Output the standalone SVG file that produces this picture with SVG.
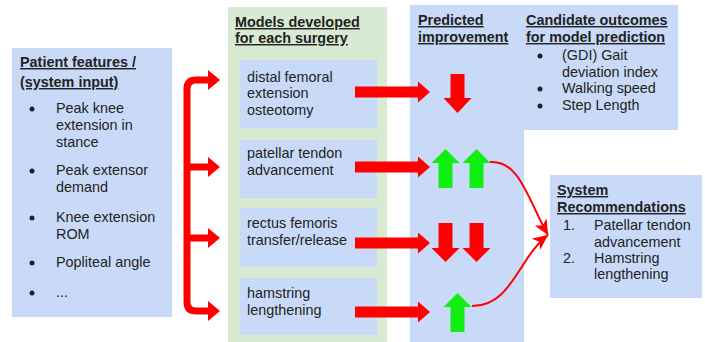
<svg xmlns="http://www.w3.org/2000/svg" width="705" height="342" viewBox="0 0 705 342">
  <style>
    text { font-family: "Liberation Sans", Arial, sans-serif; font-size: 14.4px; fill: #222; }
    .t { font-weight: bold; text-decoration: underline; }
    .blue { fill: #c9daf8; }
    .green { fill: #d9ead3; }
    .red { fill: #ff0000; }
    .grn { fill: #11ee11; }
    .bk { fill: none; stroke: #ff0000; stroke-width: 7; }
    .cv { fill: none; stroke: #ff0000; stroke-width: 2; }
  </style>
  <defs>
    <marker id="ah" markerUnits="userSpaceOnUse" markerWidth="16" markerHeight="14" refX="15" refY="7" orient="auto">
      <path d="M0,0 L15,7 L0,14 L4,7 z" fill="#ff0000"/>
    </marker>
  </defs>
  <rect width="705" height="342" fill="#ffffff"/>

  <g id="patient-features">
    <rect class="blue" x="12" y="48" width="160" height="269"/>
    <text class="t" x="20" y="67">Patient features /</text>
    <text class="t" x="20" y="87">(system input)</text>
    <circle cx="32" cy="109" r="2.5" fill="#222"/>
    <text x="56" y="113">Peak knee</text>
    <text x="56" y="130">extension in</text>
    <text x="56" y="147">stance</text>
    <circle cx="32" cy="171" r="2.5" fill="#222"/>
    <text x="56" y="175">Peak extensor</text>
    <text x="56" y="192">demand</text>
    <circle cx="32" cy="218" r="2.5" fill="#222"/>
    <text x="56" y="222">Knee extension</text>
    <text x="56" y="239">ROM</text>
    <circle cx="32" cy="263" r="2.5" fill="#222"/>
    <text x="56" y="267">Popliteal angle</text>
    <circle cx="32" cy="293" r="2.5" fill="#222"/>
    <text x="56" y="297">...</text>
  </g>

  <g id="models">
    <rect class="green" x="228" y="7" width="159" height="335"/>
    <text class="t" x="235" y="27">Models developed</text>
    <text class="t" x="235" y="43">for each surgery</text>
  </g>
  <g id="model-dfeo">
    <rect class="blue" x="240" y="60" width="137" height="68"/>
    <text x="247" y="82">distal femoral</text>
    <text x="247" y="98">extension</text>
    <text x="247" y="115">osteotomy</text>
  </g>
  <g id="model-pta">
    <rect class="blue" x="240" y="140" width="137" height="58"/>
    <text x="247" y="158">patellar tendon</text>
    <text x="247" y="175">advancement</text>
  </g>
  <g id="model-rf">
    <rect class="blue" x="240" y="208" width="137" height="59"/>
    <text x="247" y="228">rectus femoris</text>
    <text x="247" y="245">transfer/release</text>
  </g>
  <g id="model-hl">
    <rect class="blue" x="240" y="278" width="137" height="57"/>
    <text x="247" y="298">hamstring</text>
    <text x="247" y="315">lengthening</text>
  </g>

  <g id="predicted-improvement">
    <rect class="blue" x="410" y="5" width="268" height="125"/>
    <rect class="blue" x="410" y="5" width="114" height="337"/>
    <text class="t" x="418" y="25">Predicted</text>
    <text class="t" x="418" y="42">improvement</text>
    <polygon class="red" points="450.5,74 464.5,74 464.5,98 471.5,98 457.5,113 443.5,98 450.5,98"/>
    <polygon class="grn" points="445.5,149 459.5,163 452.5,163 452.5,188 438.5,188 438.5,163 431.5,163"/>
    <polygon class="grn" points="476.5,149 490.5,163 483.5,163 483.5,188 469.5,188 469.5,163 462.5,163"/>
    <polygon class="red" points="438.5,223 452.5,223 452.5,248 459.5,248 445.5,262 431.5,248 438.5,248"/>
    <polygon class="red" points="469.5,223 483.5,223 483.5,248 490.5,248 476.5,262 462.5,248 469.5,248"/>
    <polygon class="grn" points="457.5,293 471.5,307 464.5,307 464.5,332 450.5,332 450.5,307 443.5,307"/>
  </g>

  <g id="candidate-outcomes">
    <text class="t" x="526" y="25">Candidate outcomes</text>
    <text class="t" x="526" y="42">for model prediction</text>
    <circle cx="540" cy="56" r="2.5" fill="#222"/>
    <text x="562" y="60">(GDI) Gait</text>
    <text x="562" y="77">deviation index</text>
    <circle cx="540" cy="89" r="2.5" fill="#222"/>
    <text x="562" y="93">Walking speed</text>
    <circle cx="540" cy="106" r="2.5" fill="#222"/>
    <text x="562" y="110">Step Length</text>
  </g>

  <g id="system-recommendations">
    <rect class="blue" x="550" y="175" width="152" height="123"/>
    <text class="t" x="557" y="195">System</text>
    <text class="t" x="557" y="212">Recommendations</text>
    <text x="563" y="230">1.</text>
    <text x="594" y="230">Patellar tendon</text>
    <text x="594" y="247">advancement</text>
    <text x="563" y="263">2.</text>
    <text x="594" y="263">Hamstring</text>
    <text x="594" y="279">lengthening</text>
  </g>

  <g id="connectors">
    <path class="bk" d="M210 80 H196 Q187 80 187 89 V302 Q187 311 196 311 H210"/>
    <path class="bk" d="M187 167 H210 M187 238 H210"/>
    <polygon class="red" points="208,70 220,80 208,90"/>
    <polygon class="red" points="208,157 220,167 208,177"/>
    <polygon class="red" points="208,228 220,238 208,248"/>
    <polygon class="red" points="208,301 220,311 208,321"/>
    <polygon class="red" points="355,86.5 418,86.5 418,81.5 430,92 418,102.5 418,97.5 355,97.5"/>
    <polygon class="red" points="355,161.5 418,161.5 418,156.5 430,167 418,177.5 418,172.5 355,172.5"/>
    <polygon class="red" points="355,237.5 418,237.5 418,232.5 430,243 418,253.5 418,248.5 355,248.5"/>
    <polygon class="red" points="355,306.5 418,306.5 418,301.5 430,312 418,322.5 418,317.5 355,317.5"/>
    <path class="cv" d="M490 162 C520 160 528 200 548 235" marker-end="url(#ah)"/>
    <path class="cv" d="M472 306 C512 306 518 258 548 235" marker-end="url(#ah)"/>
  </g>
</svg>
